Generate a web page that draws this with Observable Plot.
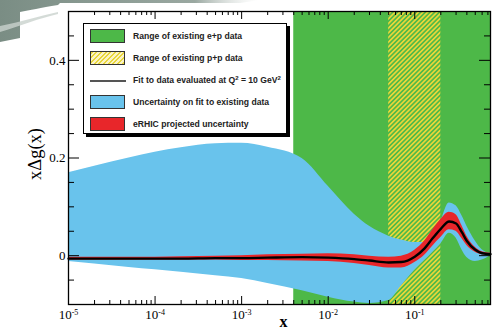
<!DOCTYPE html>
<html><head><meta charset="utf-8">
<script src="https://cdn.jsdelivr.net/npm/d3@7"></script>
<script src="https://cdn.jsdelivr.net/npm/@observablehq/plot@0.6"></script>
<style>
body{margin:0;background:#fff;}
#wrap{position:relative;width:498px;height:334px;overflow:hidden;background:#fff;}
#deco{position:absolute;left:0;top:0;}
#legend{position:absolute;left:83px;top:23px;width:202px;height:109px;background:#fff;border:1px solid #000;box-shadow:3px 3px 0 #000;font:bold 8.6px "Liberation Sans",Arial,sans-serif;color:#222;}
#legend .row{position:absolute;left:6px;height:15px;width:194px;}
#legend .sw{position:absolute;left:0;top:0;width:35px;height:14px;border:1px solid #333;box-sizing:border-box;}
#legend .ln{position:absolute;left:0;top:7px;width:36px;height:0;border-top:2px solid #555;}
#legend .lab{position:absolute;left:43px;top:2px;white-space:nowrap;}
#legend sup{font-size:6px;vertical-align:3px;line-height:0;}
</style>
</head><body>
<div id="wrap"></div>
<script>
// ---- data ----
const xValues       = [1e-5, 2e-5, 5e-5, 1e-4, 2e-4, 5e-4, 1e-3, 2e-3, 5e-3, 1e-2, 2e-2, 3e-2, 5e-2, 7e-2, 0.1, 0.13, 0.16, 0.2, 0.25, 0.3, 0.35, 0.4, 0.5, 0.6, 0.75];
const fitCentral    = [-0.006, -0.006, -0.006, -0.006, -0.006, -0.005, -0.005, -0.004, -0.003, -0.004, -0.007, -0.010, -0.014, -0.013, -0.002, 0.015, 0.035, 0.055, 0.070, 0.066, 0.048, 0.030, 0.012, 0.005, 0.003];
const existingUpper = [0.170, 0.183, 0.200, 0.212, 0.221, 0.229, 0.230, 0.222, 0.199, 0.142, 0.085, 0.060, 0.040, 0.032, 0.027, 0.027, 0.036, 0.070, 0.108, 0.102, 0.082, 0.060, 0.030, 0.012, 0.004];
const existingLower = [-0.012, -0.017, -0.024, -0.029, -0.034, -0.041, -0.047, -0.057, -0.072, -0.085, -0.095, -0.098, -0.092, -0.062, -0.030, -0.010, 0.006, 0.024, 0.046, 0.036, 0.012, -0.004, -0.012, -0.009, 0.000];
const erhicUpper    = [-0.003, -0.003, -0.003, -0.003, -0.002, -0.001, 0.000, 0.002, 0.003, 0.004, 0.002, -0.001, -0.003, -0.001, 0.011, 0.030, 0.052, 0.074, 0.089, 0.084, 0.062, 0.040, 0.017, 0.008, 0.005];
const erhicLower    = [-0.009, -0.009, -0.009, -0.009, -0.009, -0.009, -0.010, -0.010, -0.011, -0.012, -0.016, -0.020, -0.025, -0.025, -0.014, 0.001, 0.019, 0.037, 0.053, 0.050, 0.035, 0.021, 0.007, 0.002, 0.001];
const epRange = [0.004, 0.75];   // existing e+p data
const ppRange = [0.05, 0.2];     // existing p+p data
const xDomain = [1e-5, 0.75];
const yDomain = [-0.1, 0.5];
const xMajorTicks = [1e-5, 1e-4, 1e-3, 1e-2, 1e-1];
const xTickLabels = ["10^-5", "10^-4", "10^-3", "10^-2", "10^-1"];
const yMajorTicks = [0, 0.2, 0.4];
const yTickLabels = ["0", "0.2", "0.4"];
const yMinorTicks = [-0.05, 0.05, 0.1, 0.15, 0.25, 0.3, 0.35, 0.45];
const legendLabels = ["Range of existing e+p data", "Range of existing p+p data", "Fit to data evaluated at Q<sup>2</sup> = 10 GeV<sup>2</sup>", "Uncertainty on fit to existing data", "eRHIC projected uncertainty"];

const xMinorTicks = [];
for (const d of [1e-5, 1e-4, 1e-3, 1e-2, 1e-1]) for (let m = 2; m <= 9; m++) if (m * d <= xDomain[1]) xMinorTicks.push(m * d);

const rows = xValues.map((x, i) => ({x, c: fitCentral[i], bu: existingUpper[i], bl: existingLower[i], ru: erhicUpper[i], rl: erhicLower[i]}));

const W = 498, H = 334, mL = 68, mR = 8, mT = 11, mB = 30;
const fw = W - mL - mR, fh = H - mT - mB;
const GREEN = "#4db848", BLUE = "#69c3ec", RED = "#e8262a", YEL = "#e8d63a";

const defs = () => {
  const g = d3.create("svg:defs");
  const p = g.append("pattern").attr("id", "hatch").attr("patternUnits", "userSpaceOnUse")
    .attr("width", 3.3).attr("height", 3.3).attr("patternTransform", "rotate(45)");
  p.append("rect").attr("width", 1.7).attr("height", 3.3).attr("fill", YEL);
  return g.node();
};

const chart = Plot.plot({
  width: W, height: H,
  marginLeft: mL, marginRight: mR, marginTop: mT, marginBottom: mB,
  style: {fontFamily: "'Liberation Serif', 'DejaVu Serif', serif", background: "transparent", color: "#000"},
  x: {type: "log", domain: xDomain, axis: null},
  y: {domain: yDomain, axis: null},
  marks: [
    defs,
    Plot.rect([epRange], {x1: d => d[0], x2: d => d[1], fill: GREEN}),
    Plot.rect([ppRange], {x1: d => d[0], x2: d => d[1], fill: "url(#hatch)"}),
    Plot.areaY(rows, {x: "x", y1: "bl", y2: "bu", fill: BLUE, curve: "monotone-x", clip: true}),
    Plot.areaY(rows, {x: "x", y1: "rl", y2: "ru", fill: RED, curve: "monotone-x"}),
    Plot.lineY(rows, {x: "x", y: "c", stroke: "#000", strokeWidth: 2.4, curve: "monotone-x"}),
    // ticks, inward on all four sides
    Plot.tickX(xMajorTicks, {x: d => d, insetTop: fh - 8, stroke: "#000", strokeWidth: 1}),
    Plot.tickX(xMinorTicks, {x: d => d, insetTop: fh - 4, stroke: "#000", strokeWidth: 1}),
    Plot.tickX(xMajorTicks, {x: d => d, insetBottom: fh - 8, stroke: "#000", strokeWidth: 1}),
    Plot.tickX(xMinorTicks, {x: d => d, insetBottom: fh - 4, stroke: "#000", strokeWidth: 1}),
    Plot.tickY(yMajorTicks, {y: d => d, insetRight: fw - 11, stroke: "#000", strokeWidth: 1}),
    Plot.tickY(yMinorTicks, {y: d => d, insetRight: fw - 6, stroke: "#000", strokeWidth: 1}),
    Plot.tickY(yMajorTicks, {y: d => d, insetLeft: fw - 11, stroke: "#000", strokeWidth: 1}),
    Plot.tickY(yMinorTicks, {y: d => d, insetLeft: fw - 6, stroke: "#000", strokeWidth: 1}),
    Plot.frame({stroke: "#000", strokeWidth: 1.3}),
    Plot.axisX(xMajorTicks, {tickSize: 0, tickPadding: 5, fontSize: 13, label: null,
      tickFormat: d => xTickLabels[xMajorTicks.indexOf(d)]}),
    Plot.axisY(yMajorTicks, {tickSize: 0, tickPadding: 3, fontSize: 13, label: null,
      tickFormat: d => yTickLabels[yMajorTicks.indexOf(d)]}),
    Plot.text(["xΔg(x)"], {frameAnchor: "left", textAnchor: "middle", dx: -33, dy: -4, rotate: -90, fontSize: 18.5, ariaLabel: "ylabel"}),
    Plot.text(["x"], {frameAnchor: "bottom", dx: 4, dy: 22, fontSize: 16, fontWeight: "bold", ariaLabel: "xlabel"})
  ]
});

// superscript exponents on the x tick labels
chart.querySelectorAll('g[aria-label="x-axis tick label"] text').forEach(t => {
  const [base, exp] = t.textContent.split("^");
  t.textContent = "";
  const a = document.createElementNS("http://www.w3.org/2000/svg", "tspan");
  a.textContent = base;
  const b = document.createElementNS("http://www.w3.org/2000/svg", "tspan");
  b.textContent = exp; b.setAttribute("dy", "-0.45em"); b.setAttribute("font-size", "0.62em");
  t.append(a, b);
});

const wrap = document.getElementById("wrap");
wrap.appendChild(chart);

// condense the y label glyphs horizontally (about its own centre), like the reference
chart.querySelectorAll('g[aria-label="ylabel"] text').forEach(t => {
  const sr = chart.getBoundingClientRect(), r = t.getBoundingClientRect();
  const cx = r.left + r.width / 2 - sr.left, cy = r.top + r.height / 2 - sr.top;
  const g = t.parentNode;
  const wrapG = document.createElementNS("http://www.w3.org/2000/svg", "g");
  wrapG.setAttribute("transform", `translate(${cx},${cy}) scale(0.85,1) translate(${-cx},${-cy})`);
  g.insertBefore(wrapG, t);
  wrapG.appendChild(t);
});

// decorative slide background fragment at top-left
wrap.insertAdjacentHTML("beforeend", `<svg id="deco" width="260" height="45">
<defs><linearGradient id="gg" x1="0" x2="1"><stop offset="0" stop-color="#7a8d84"/><stop offset="0.75" stop-color="#9aa8a1"/><stop offset="1" stop-color="#dfe4e1" stop-opacity="0"/></linearGradient></defs>
<path d="M0,0 H260 L240,3 H60 L58,5 C40,8 30,10 20,12 V38 L0,42 Z" fill="url(#gg)"/>
<path d="M0,26 C20,22 40,16 58,12 L58,14 C40,18 20,26 0,32 Z" fill="#c9d2cd" opacity="0.8"/>
</svg>`);

// legend
const sw = [
  `<div class="sw" style="background:${GREEN}"></div>`,
  `<div class="sw" style="background:repeating-linear-gradient(135deg, ${YEL} 0 1.6px, #fbf3c4 1.6px 3.3px)"></div>`,
  `<div class="ln"></div>`,
  `<div class="sw" style="background:${BLUE}"></div>`,
  `<div class="sw" style="background:${RED}"></div>`
];
const lg = document.createElement("div");
lg.id = "legend";
lg.innerHTML = legendLabels.map((l, i) => `<div class="row" style="top:${5 + i * 22}px">${sw[i]}<div class="lab">${l}</div></div>`).join("");
wrap.appendChild(lg);
</script>
</body></html>
